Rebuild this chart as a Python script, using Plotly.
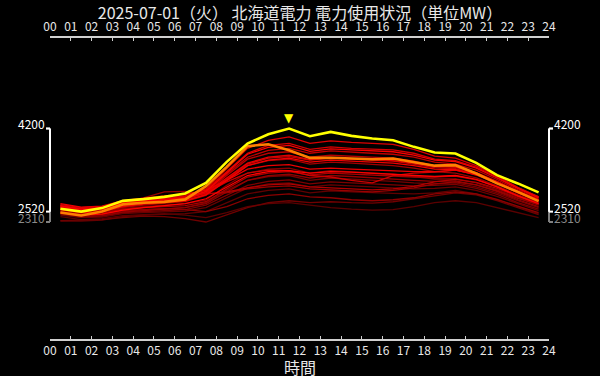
import plotly.graph_objects as go

# ---- data ----
hours = [h + 0.5 for h in range(24)]
tick_vals = list(range(25))
tick_text = [f"{h:02d}" for h in range(25)]

title_text = "2025-07-01（火） 北海道電力 電力使用状況（単位MW）"
x_title = "時間"

today = [2577, 2520, 2591, 2738, 2773, 2819, 2888, 3102, 3526, 3897, 4085, 4200,
         4045, 4131, 4051, 3998, 3964, 3829, 3715, 3695, 3505, 3257, 3090, 2908]
yesterday = [2504, 2443, 2524, 2666, 2698, 2718, 2767, 3035, 3425, 3843, 3883, 3762,
             3606, 3610, 3594, 3580, 3594, 3526, 3449, 3459, 3291, 3090, 2920, 2732]

d01 = [2420, 2360, 2380, 2440, 2460, 2480, 2450, 2400, 2500, 2620, 2680, 2700, 2650, 2600, 2570, 2550, 2560, 2620, 2700, 2740, 2700, 2600, 2500, 2400]
d02 = [2330, 2330, 2350, 2420, 2450, 2470, 2480, 2520, 2700, 2880, 2950, 2980, 2900, 2940, 2920, 2900, 2890, 2880, 2900, 2950, 2880, 2760, 2620, 2480]
d03 = [2450, 2400, 2410, 2480, 2500, 2520, 2530, 2600, 2800, 3000, 3080, 3100, 3020, 3060, 3040, 3020, 3000, 2980, 2990, 3020, 2950, 2830, 2680, 2540]
d04 = [2340, 2350, 2360, 2400, 2430, 2420, 2380, 2310, 2450, 2600, 2700, 2740, 2700, 2720, 2700, 2690, 2720, 2780, 2850, 2900, 2860, 2740, 2600, 2460]
d05 = [2500, 2440, 2450, 2520, 2560, 2580, 2600, 2700, 2950, 3150, 3230, 3250, 3150, 3200, 3180, 3150, 3130, 3100, 3080, 3100, 3020, 2900, 2740, 2600]
d06 = [2470, 2420, 2430, 2500, 2520, 2540, 2560, 2650, 2850, 3050, 3130, 3160, 3080, 3120, 3100, 3080, 3060, 3040, 3050, 3070, 2990, 2870, 2700, 2570]
d07 = [2550, 2480, 2500, 2580, 2620, 2650, 2680, 2750, 3050, 3300, 3380, 3400, 3300, 3350, 3320, 3300, 3280, 3230, 3180, 3180, 3100, 2960, 2800, 2650]
d08 = [2520, 2460, 2470, 2540, 2560, 2580, 2560, 2520, 2620, 2780, 2850, 2880, 2820, 2800, 2760, 2740, 2760, 2800, 2880, 2920, 2880, 2770, 2630, 2500]
d09 = [2480, 2420, 2440, 2510, 2540, 2570, 2600, 2680, 2920, 3150, 3250, 3280, 3200, 3250, 3230, 3200, 3180, 3150, 3130, 3140, 3060, 2930, 2760, 2620]
d10 = [2600, 2560, 2580, 2700, 2800, 2920, 2930, 2880, 2900, 2980, 3020, 3040, 2980, 2960, 2940, 2920, 2950, 3000, 3080, 3120, 3060, 2940, 2790, 2660]
d11 = [2560, 2500, 2510, 2600, 2650, 2680, 2720, 2850, 3150, 3450, 3550, 3580, 3480, 3520, 3500, 3480, 3450, 3400, 3330, 3300, 3200, 3040, 2860, 2700]
d12 = [2530, 2470, 2490, 2570, 2600, 2620, 2640, 2720, 2980, 3220, 3300, 3330, 3260, 3300, 3280, 3260, 3240, 3220, 3220, 3240, 3160, 3020, 2850, 2690]
d13 = [2580, 2520, 2540, 2620, 2680, 2760, 2850, 2880, 2920, 3000, 3060, 3080, 3020, 3000, 2980, 2960, 2980, 3030, 3120, 3170, 3110, 2990, 2830, 2680]
d14 = [2600, 2540, 2560, 2660, 2700, 2730, 2770, 2900, 3250, 3580, 3700, 3730, 3620, 3660, 3640, 3620, 3600, 3540, 3450, 3420, 3300, 3120, 2930, 2760]
d15 = [2620, 2560, 2580, 2680, 2720, 2750, 2790, 2920, 3280, 3620, 3760, 3800, 3700, 3750, 3720, 3700, 3680, 3620, 3520, 3480, 3360, 3170, 2960, 2790]
d16 = [2590, 2530, 2550, 2640, 2680, 2710, 2740, 2870, 3180, 3480, 3600, 3630, 3560, 3600, 3580, 3560, 3540, 3480, 3410, 3390, 3280, 3100, 2910, 2740]
d17 = [2640, 2580, 2600, 2700, 2740, 2770, 2800, 2900, 3120, 3300, 3360, 3350, 3250, 3220, 3150, 3100, 3250, 3300, 3320, 3360, 3280, 3120, 2930, 2760]
d18 = [2660, 2600, 2620, 2720, 2760, 2800, 2830, 2960, 3320, 3700, 3860, 3900, 3780, 3830, 3800, 3790, 3770, 3700, 3580, 3550, 3420, 3220, 3000, 2820]
d19 = [2640, 2580, 2600, 2710, 2750, 2790, 2830, 2980, 3400, 3800, 3960, 4030, 3900, 3950, 3920, 3900, 3880, 3780, 3640, 3600, 3450, 3240, 3010, 2820]
d20 = [2610, 2550, 2570, 2670, 2710, 2740, 2780, 2900, 3200, 3500, 3620, 3660, 3570, 3610, 3590, 3570, 3550, 3500, 3430, 3420, 3310, 3130, 2930, 2760]
d21 = [2680, 2610, 2630, 2740, 2790, 2840, 2870, 2950, 3150, 3380, 3450, 3470, 3380, 3400, 3380, 3360, 3350, 3330, 3330, 3360, 3270, 3110, 2920, 2770]
d22 = [2560, 2500, 2520, 2620, 2670, 2700, 2740, 2860, 3160, 3450, 3560, 3600, 3520, 3560, 3540, 3520, 3500, 3450, 3380, 3370, 3260, 3090, 2900, 2730]
d23 = [2630, 2570, 2590, 2690, 2730, 2760, 2800, 2930, 3300, 3680, 3820, 3860, 3740, 3790, 3770, 3750, 3730, 3660, 3560, 3530, 3400, 3200, 2990, 2800]
d24 = [2500, 2450, 2470, 2550, 2600, 2640, 2680, 2780, 3020, 3250, 3330, 3350, 3300, 3330, 3320, 3300, 3280, 3250, 3230, 3250, 3170, 3020, 2840, 2680]

past_days = [d01, d02, d03, d04, d05, d06, d07, d08, d09, d10, d11, d12,
             d13, d14, d15, d16, d17, d18, d19, d20, d21, d22, d23, d24]

# ---- figure ----
fig = go.Figure()

n = len(past_days)
for i, day in enumerate(past_days):
    t = i / (n - 1)
    r = int(90 + t * 165)
    fig.add_trace(go.Scatter(x=hours, y=day, mode="lines",
                             line=dict(color=f"rgb({r},0,0)", width=1.3),
                             hoverinfo="skip", showlegend=False))

fig.add_trace(go.Scatter(x=hours, y=yesterday, mode="lines",
                         line=dict(color="#ff8000", width=2.6),
                         showlegend=False))
fig.add_trace(go.Scatter(x=hours, y=today, mode="lines",
                         line=dict(color="#ffff00", width=2.6),
                         showlegend=False))

t_max = max(today)
t_min = min(today)
all_vals = [v for d in past_days for v in d] + today + yesterday
a_min = min(all_vals)
a_max = max(all_vals)
peak_x = hours[today.index(t_max)]

# peak marker
fig.add_annotation(x=peak_x, y=t_max, text="▼", showarrow=False,
                   xref="x", yref="y", yanchor="middle", yshift=11,
                   font=dict(color="#ffff00", size=12, family="DejaVu Sans"))

# brackets (left and right) in paper-x, data-y
def bracket(side, lo, hi, color):
    if side == "left":
        xv, xt = 0.0, -0.008
    else:
        xv, xt = 1.0, 1.008
    kw = dict(xref="paper", yref="y", line=dict(color=color, width=2), layer="above")
    fig.add_shape(type="line", x0=xv, x1=xv, y0=lo, y1=hi, **kw)
    fig.add_shape(type="line", x0=xv, x1=xt, y0=hi, y1=hi, **kw)
    fig.add_shape(type="line", x0=xv, x1=xt, y0=lo, y1=lo, **kw)

for side in ("left", "right"):
    bracket(side, a_min, a_max, "#808080")
    bracket(side, t_min, t_max, "#ffffff")

def label(side, val, color, ys):
    if side == "left":
        fig.add_annotation(x=0, y=val, xref="paper", yref="y", text=str(val),
                           showarrow=False, xanchor="right", yanchor="middle",
                           xshift=-3, yshift=ys,
                           font=dict(color=color, size=12, family="Noto Sans CJK JP"))
    else:
        fig.add_annotation(x=1, y=val, xref="paper", yref="y", text=str(val),
                           showarrow=False, xanchor="left", yanchor="middle",
                           xshift=3, yshift=ys,
                           font=dict(color=color, size=12, family="Noto Sans CJK JP"))

for side in ("left", "right"):
    label(side, a_min, "#8a8a8a", 5)
    label(side, t_min, "#ffffff", 4)
    label(side, t_max, "#ffffff", 5)

axis_common = dict(range=[0, 24], tickmode="array", tickvals=tick_vals, ticktext=tick_text,
                   showline=True, linecolor="#d0d0d0", linewidth=1.5,
                   ticks="inside", ticklen=3, tickcolor="#d0d0d0", tickwidth=1,
                   showgrid=False, zeroline=False,
                   tickfont=dict(color="#e8e8e8", size=12, family="Noto Sans CJK JP"))

fig.update_layout(
    width=600, height=376,
    paper_bgcolor="#000000", plot_bgcolor="#000000",
    margin=dict(l=50, r=51, t=38, b=37),
    title=dict(text=title_text, x=0.5, xanchor="center", y=0.965, yanchor="middle",
               font=dict(color="#e8e8e8", size=16, family="Noto Sans CJK JP")),
    xaxis=dict(side="bottom", **axis_common),
    xaxis2=dict(side="top", overlaying="x", anchor="y", **axis_common),
    yaxis=dict(range=[-55, 6030], visible=False, showgrid=False, zeroline=False),
    showlegend=False,
)
# invisible trace to activate the top axis
fig.add_trace(go.Scatter(x=[0, 24], y=[None, None], xaxis="x2", showlegend=False,
                         hoverinfo="skip"))

fig.add_annotation(x=0.5, y=0, xref="paper", yref="paper", text=x_title, showarrow=False,
                   xanchor="center", yanchor="middle", yshift=-28,
                   font=dict(color="#e8e8e8", size=16, family="Noto Sans CJK JP"))

fig.write_html("out.html", config={"displayModeBar": False},
               post_script="document.body.style.margin='0';document.body.style.background='#000';")
